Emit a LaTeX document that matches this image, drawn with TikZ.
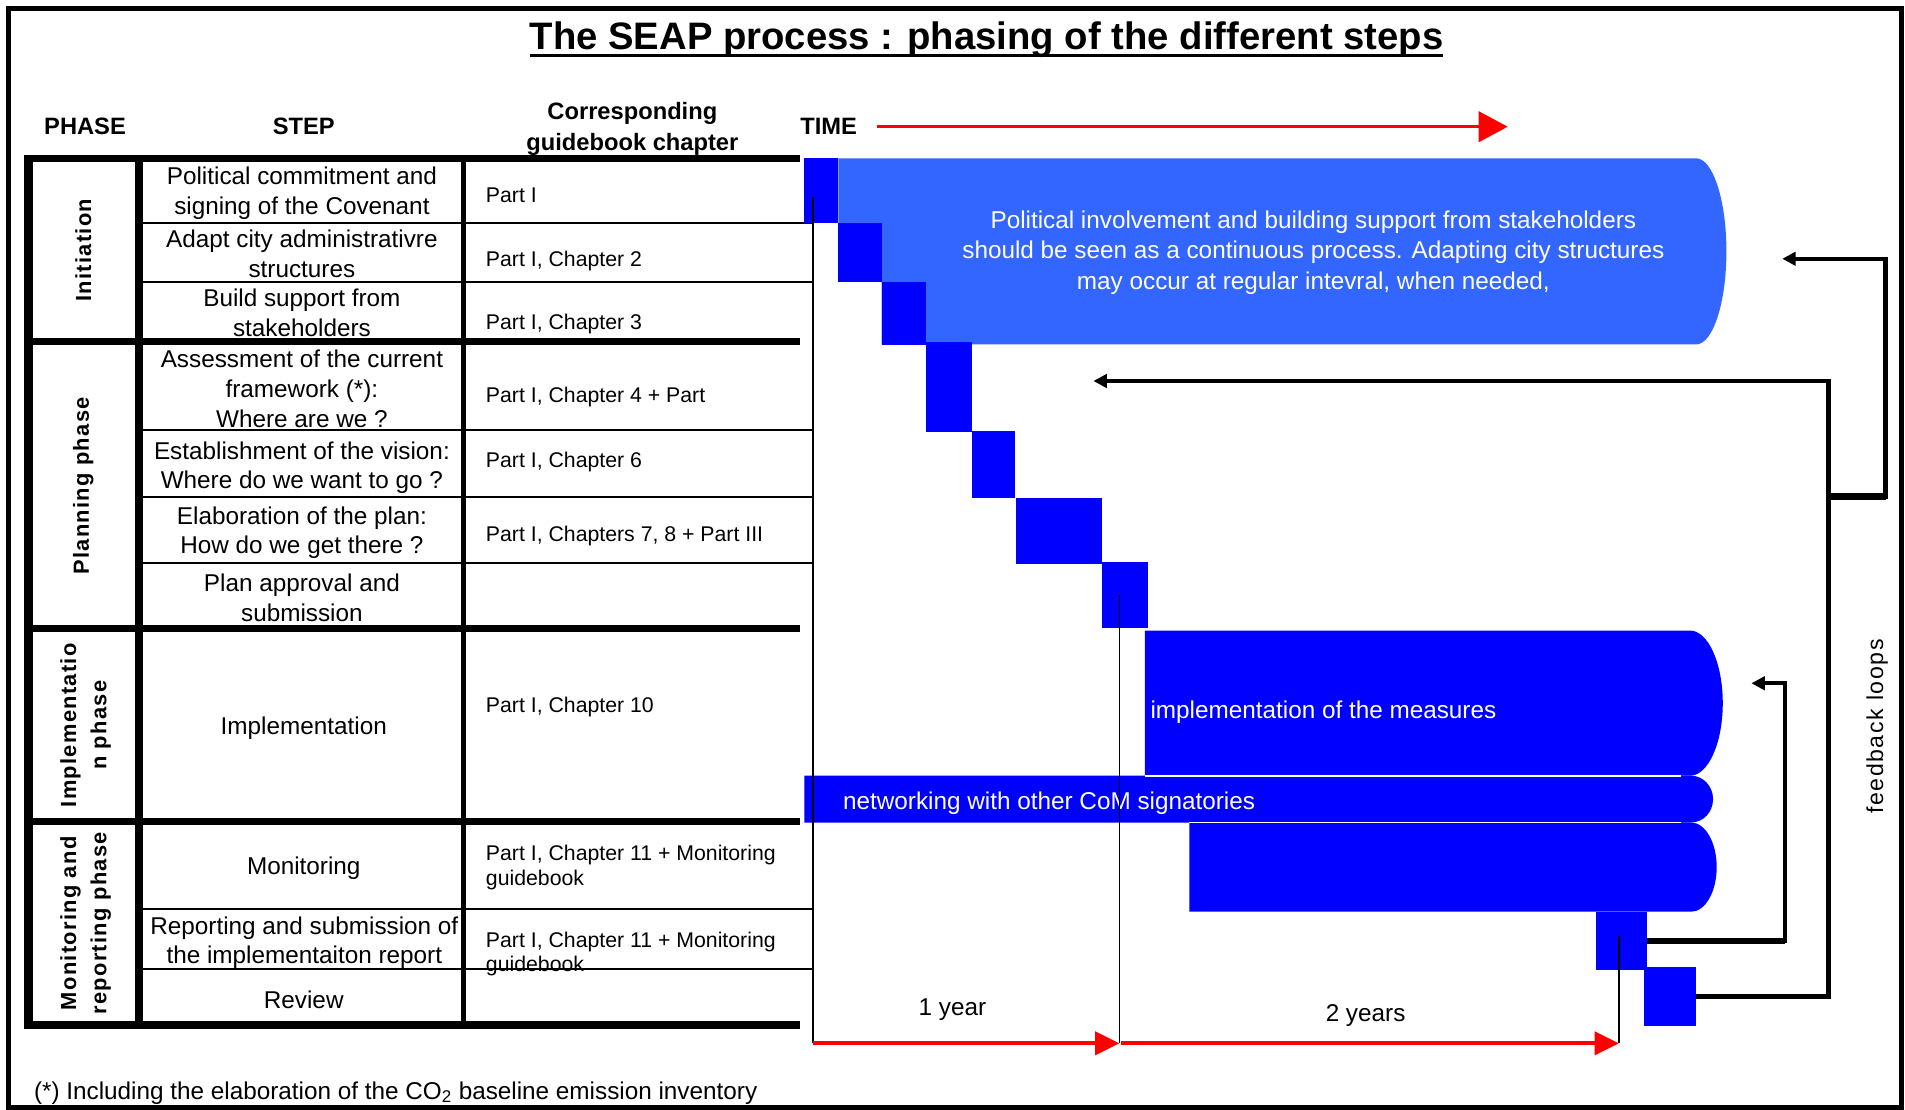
\documentclass[tikz,border=0pt]{standalone}
\usepackage{fontspec}
\setmainfont{Liberation Sans}
\usetikzlibrary{arrows.meta}
\definecolor{sqblue}{RGB}{0,0,255}
\definecolor{skyband}{RGB}{51,102,255}

\begin{document}
\begin{tikzpicture}[x=1pt, y=-1pt,
  every node/.style = {inner sep=0pt, outer sep=0pt},
  headtext/.style = {align=center, font=\fontsize{19.5}{25}\selectfont\bfseries},
  steptext/.style = {align=center, font=\fontsize{20}{24.5}\selectfont},
  chaptext/.style = {anchor=west, align=left, font=\fontsize{17.5}{20}\selectfont},
  phasetext/.style = {rotate=90, align=center, font=\fontsize{18}{25}\selectfont\bfseries\addfontfeature{LetterSpace=6}},
  bandtext/.style = {text=white, font=\fontsize{20}{25.5}\selectfont},
  stepsq/.style = {fill=sqblue, anchor=north west},
  thickrule/.style = {line width=5.5pt},
  thinrule/.style = {line width=1.8pt},
  timeline/.style = {line width=1.3pt},
  redarrow/.style = {red, line width=3pt, -{Triangle[length=20pt,width=19pt]}},
  loopline/.style = {line width=3.5pt, -{Triangle[length=11pt,width=11pt]}}]

  \useasboundingbox (0,0) rectangle (1568,913);
  \draw[line width=4.5pt] (6.8,7) -- (1565,7) -- (1565,912) -- (6.8,912) -- cycle;

  \node[anchor=base, font=\fontsize{31.5}{36}\selectfont\bfseries] (title) at (812,40.5)
    {The SEAP process : phasing of the different steps};
  \draw[line width=2.7pt] ([yshift=-5.3pt]title.base west) -- ([yshift=-5.3pt]title.base east);

  \node[headtext] (hphase) at (70,104) {PHASE};
  \node[headtext] (hstep) at (250,104) {STEP};
  \node[headtext] (hchap) at (520.5,106) {Corresponding\\guidebook chapter};
  \node[headtext] (htime) at (682,104) {TIME};
  \coordinate (tstart) at (721.7,104.3);
  \coordinate (tend) at (1241,104.3);
  \draw[red, line width=2.8pt, -{Triangle[length=24pt,width=25pt]}] (tstart) -- (tend);

  % table
  \foreach \y in {183.3,231.8,353.9,408.8,463.6,748.4,797.8}
    \draw[thinrule] (114,\y) -- (669.4,\y);
  \foreach \y in {130.3,281.2,517.2,676.3}
    \draw[thickrule] (22,\y) -- (658.5,\y);
  \draw[line width=6.5pt] (19.4,843.6) -- (658.6,843.6);
  \draw[line width=7pt] (23.6,127.5) -- (23.6,846.8);
  \draw[line width=6.5pt] (114.5,127.5) -- (114.5,846.8);
  \draw[line width=4.5pt] (381.5,127.5) -- (381.5,846.8);

  \node[phasetext] (pinit) at (68.5,206) {Initiation};
  \node[phasetext] (pplan) at (68.5,400) {Planning phase};
  \node[phasetext] (pimpl) at (70.5,597) {Implementatio\\n phase};
  \node[phasetext] (pmon) at (70.5,760) {Monitoring and\\reporting phase};

  \node[steptext] (r1) at (248.5,159) {Political commitment and\\signing of the Covenant};
  \node[steptext] (r2) at (248.5,209) {Adapt city administrativre\\structures};
  \node[steptext] (r3) at (248.5,257.5) {Build support from\\stakeholders};
  \node[steptext] (r4) at (248.5,320) {Assessment of the current\\framework (*):\\Where are we ?};
  \node[steptext] (r5) at (248.5,385) {Establishment of the vision:\\Where do we want to go ?};
  \node[steptext] (r6) at (248.5,438.5) {Elaboration of the plan:\\How do we get there ?};
  \node[steptext] (r7) at (248.5,492) {Plan approval and\\submission};
  \node[steptext] (r8) at (250,599) {Implementation};
  \node[steptext] (r9) at (250,715) {Monitoring};
  \node[steptext] (r10) at (250.5,776) {Reporting and submission of\\the implementaiton report};
  \node[steptext] (r11) at (250,823) {Review};

  \node[chaptext] (c1) at (400,161) {Part I};
  \node[chaptext] (c2) at (400,215) {Part I, Chapter 2};
  \node[chaptext] (c3) at (400,267) {Part I, Chapter 3};
  \node[chaptext] (c4) at (400,327) {Part I, Chapter 4 + Part};
  \node[chaptext] (c5) at (400,380) {Part I, Chapter 6};
  \node[chaptext] (c6) at (400,441) {Part I, Chapters 7, 8 + Part III};
  \node[chaptext] (c8) at (400,582) {Part I, Chapter 10};
  \node[chaptext] (c9) at (400,714) {Part I, Chapter 11 + Monitoring\\guidebook};
  \node[chaptext] (c10) at (400,785) {Part I, Chapter 11 + Monitoring\\guidebook};

  % timeline blocks
  \fill[skyband] (690,130.3) -- (1396,130.3)
    arc[start angle=-90, end angle=90, x radius=25, y radius=76.6]
    -- (725.6,283.5) -- (725.6,231.8) -- (690,231.8) -- cycle;
  \node[bandtext, align=center] (bandlabel) at (1081,208)
    {Political involvement and building support from stakeholders\\should be seen as a continuous process. Adapting city structures\\may occur at regular intevral, when needed,};

  \node[stepsq, minimum width=28pt, minimum height=53.5pt] (s1) at (662,130.3) {};
  \node[stepsq, minimum width=35.6pt, minimum height=48pt] (s2) at (690,183.8) {};
  \node[stepsq, minimum width=36.4pt, minimum height=52.2pt] (s3) at (725.6,231.8) {};
  \node[stepsq, minimum width=37.7pt, minimum height=74pt] (s4) at (762,281.2) {};
  \node[stepsq, minimum width=36pt, minimum height=55pt] (s5) at (799.7,355) {};
  \node[stepsq, minimum width=71.4pt, minimum height=54pt] (s6) at (836,410) {};
  \node[stepsq, minimum width=37.5pt, minimum height=55pt] (s7) at (907.4,462.3) {};

  \fill[sqblue] (942.4,519) -- (1391,519)
    arc[start angle=-90, end angle=90, x radius=27, y radius=59.75] -- (942.4,638.5) -- cycle;
  \fill[sqblue] (662,638.5) -- (1392,638.5)
    arc[start angle=-90, end angle=90, x radius=18, y radius=19.25] -- (662,677) -- cycle;
  \fill[sqblue] (979,677) -- (1392,677)
    arc[start angle=-90, end angle=90, x radius=21, y radius=36.7] -- (979,750.4) -- cycle;
  \draw[white, line width=1.5pt] (942.4,638.5) -- (1384,638.5);
  \draw[white, line width=1.5pt] (979,677) -- (1384,677);
  \node[bandtext, anchor=west] (impllabel) at (947,586) {implementation of the measures};
  \node[bandtext, anchor=west] (netlabel) at (694,661) {networking with other CoM signatories};

  \node[stepsq, minimum width=42pt, minimum height=48pt] (rep) at (1313.3,750.4) {};
  \node[stepsq, minimum width=42.6pt, minimum height=48.5pt] (rev) at (1353,796) {};

  % time scale
  \coordinate (t0) at (669.4,858.7);
  \coordinate (t1) at (921.4,858.7);
  \coordinate (t2) at (923,858.7);
  \coordinate (t3) at (1332.5,858.7);
  \draw[timeline] (669.4,162) -- (t0);
  \draw[timeline] (921.4,489.7) -- (t1);
  \draw[timeline] (1332.5,770.4) -- (t3);
  \draw[redarrow] (t0) -- (t1);
  \draw[redarrow] (t2) -- (t3);
  \node[font=\fontsize{20}{24}\selectfont] (oneyear) at (784,831) {1 year};
  \node[font=\fontsize{20}{24}\selectfont] (twoyears) at (1124,836) {2 years};

  % feedback loops
  \coordinate (fbA) at (900,313.6);
  \coordinate (fbB) at (1467,213);
  \coordinate (fbC) at (1441.6,562.4);
  \draw[loopline] (rev.east) -| (1505,313.6) -- (fbA);
  \draw[loopline] (1505,408.8) -| (1552,213) -- (fbB);
  \draw[line width=5.5pt] (1505,408.8) -- (1552,408.8);
  \draw[loopline] (rep.east) -| (1469,562.4) -- (fbC);
  \draw[line width=5.5pt] (rep.east) -- (1469,774.4);
  \node[rotate=90, font=\fontsize{19}{22}\selectfont\addfontfeature{LetterSpace=7}] (fblabel) at (1545,598) {feedback loops};

  \node[anchor=west, font=\fontsize{20}{24}\selectfont] (note) at (28,899.5)
    {(*) Including the elaboration of the CO\textsubscript{2} baseline emission inventory};
\end{tikzpicture}
\end{document}
